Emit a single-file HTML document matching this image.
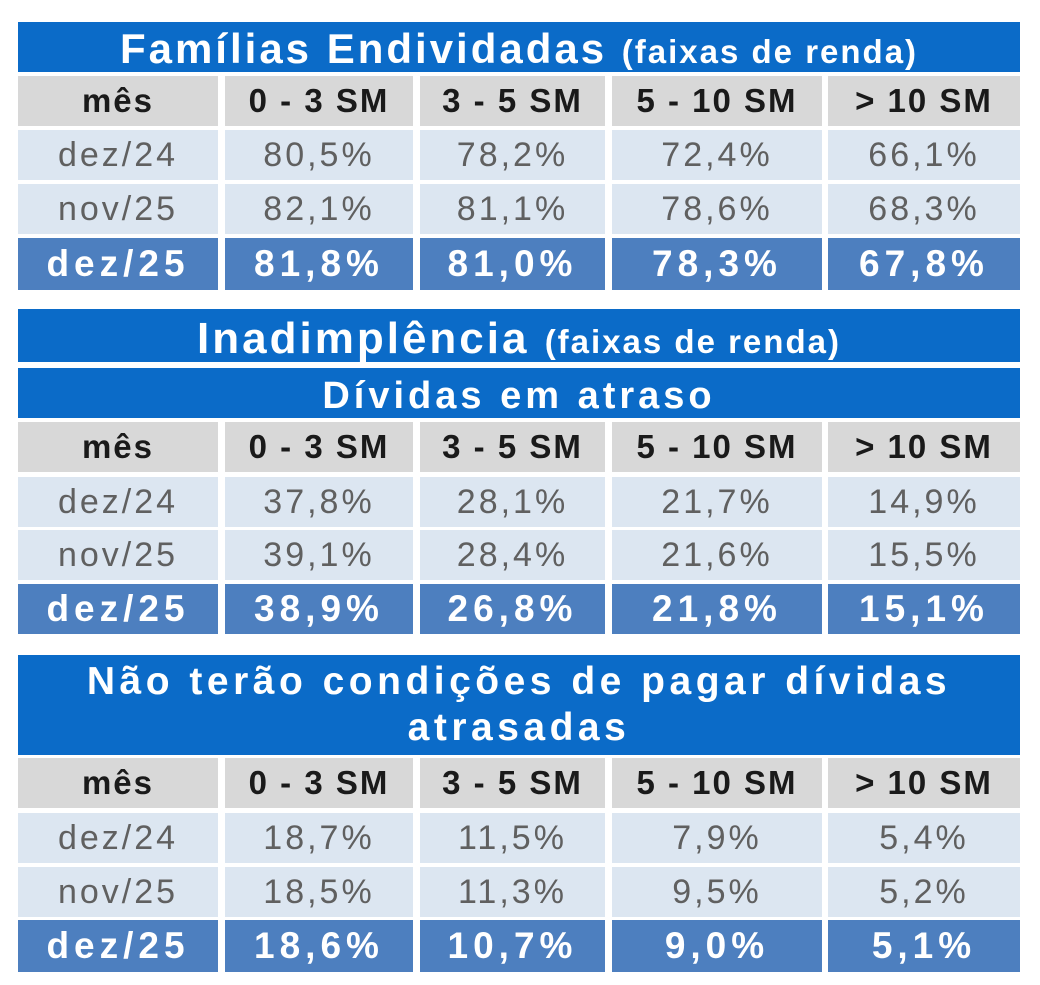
<!DOCTYPE html>
<html><head><meta charset="utf-8"><style>
*{margin:0;padding:0;box-sizing:border-box}
body{width:1040px;height:985px;background:#fff;position:relative;font-family:"Liberation Sans",sans-serif;font-weight:bold;overflow:hidden}
.bar{position:absolute;left:18px;width:1002px;background:#0b6bc8;color:#fff;text-align:center;letter-spacing:3px;white-space:nowrap}
.row{position:absolute;left:18px;width:1002px;height:50px}
.c{position:absolute;top:0;height:100%;display:flex;align-items:center;justify-content:center;white-space:nowrap}
.c1{left:0;width:200px}.c2{left:207px;width:188px}.c3{left:402px;width:185px}.c4{left:594px;width:210px}.c5{left:810px;width:192px}
.h .c{background:#d8d8d8;color:#1a1a1a;font-size:33px;letter-spacing:2px}
.d .c{background:#dce6f1;color:#606060;font-weight:normal;font-size:34px;letter-spacing:3px}
.l .c{background:#4d7fbf;color:#fff;font-size:37px;letter-spacing:5px}
.small{font-size:33px;letter-spacing:2px}
</style></head><body>

<div class="bar" style="top:22px;height:50px;font-size:42px;line-height:54px">Famílias Endividadas <span class="small">(faixas de renda)</span></div>
<div class="row h" style="top:76px"><div class="c c1">mês</div><div class="c c2">0 - 3 SM</div><div class="c c3">3 - 5 SM</div><div class="c c4">5 - 10 SM</div><div class="c c5">&gt; 10 SM</div></div>
<div class="row d" style="top:130px"><div class="c c1">dez/24</div><div class="c c2">80,5%</div><div class="c c3">78,2%</div><div class="c c4">72,4%</div><div class="c c5">66,1%</div></div>
<div class="row d" style="top:184px"><div class="c c1">nov/25</div><div class="c c2">82,1%</div><div class="c c3">81,1%</div><div class="c c4">78,6%</div><div class="c c5">68,3%</div></div>
<div class="row l" style="top:238px;height:52px"><div class="c c1">dez/25</div><div class="c c2">81,8%</div><div class="c c3">81,0%</div><div class="c c4">78,3%</div><div class="c c5">67,8%</div></div>

<div class="bar" style="top:309px;height:53px;font-size:44px;line-height:60px">Inadimplência <span class="small">(faixas de renda)</span></div>
<div class="bar" style="top:368px;height:50px;font-size:38px;line-height:56px;letter-spacing:4px">Dívidas em atraso</div>
<div class="row h" style="top:422px"><div class="c c1">mês</div><div class="c c2">0 - 3 SM</div><div class="c c3">3 - 5 SM</div><div class="c c4">5 - 10 SM</div><div class="c c5">&gt; 10 SM</div></div>
<div class="row d" style="top:477px"><div class="c c1">dez/24</div><div class="c c2">37,8%</div><div class="c c3">28,1%</div><div class="c c4">21,7%</div><div class="c c5">14,9%</div></div>
<div class="row d" style="top:530px"><div class="c c1">nov/25</div><div class="c c2">39,1%</div><div class="c c3">28,4%</div><div class="c c4">21,6%</div><div class="c c5">15,5%</div></div>
<div class="row l" style="top:584px"><div class="c c1">dez/25</div><div class="c c2">38,9%</div><div class="c c3">26,8%</div><div class="c c4">21,8%</div><div class="c c5">15,1%</div></div>

<div class="bar" style="top:655px;height:100px;font-size:39px;line-height:46px;padding-top:4px;letter-spacing:4.5px">Não terão condições de pagar dívidas<br>atrasadas</div>
<div class="row h" style="top:758px"><div class="c c1">mês</div><div class="c c2">0 - 3 SM</div><div class="c c3">3 - 5 SM</div><div class="c c4">5 - 10 SM</div><div class="c c5">&gt; 10 SM</div></div>
<div class="row d" style="top:813px"><div class="c c1">dez/24</div><div class="c c2">18,7%</div><div class="c c3">11,5%</div><div class="c c4">7,9%</div><div class="c c5">5,4%</div></div>
<div class="row d" style="top:867px"><div class="c c1">nov/25</div><div class="c c2">18,5%</div><div class="c c3">11,3%</div><div class="c c4">9,5%</div><div class="c c5">5,2%</div></div>
<div class="row l" style="top:920px;height:52px"><div class="c c1">dez/25</div><div class="c c2">18,6%</div><div class="c c3">10,7%</div><div class="c c4">9,0%</div><div class="c c5">5,1%</div></div>
</body></html>
